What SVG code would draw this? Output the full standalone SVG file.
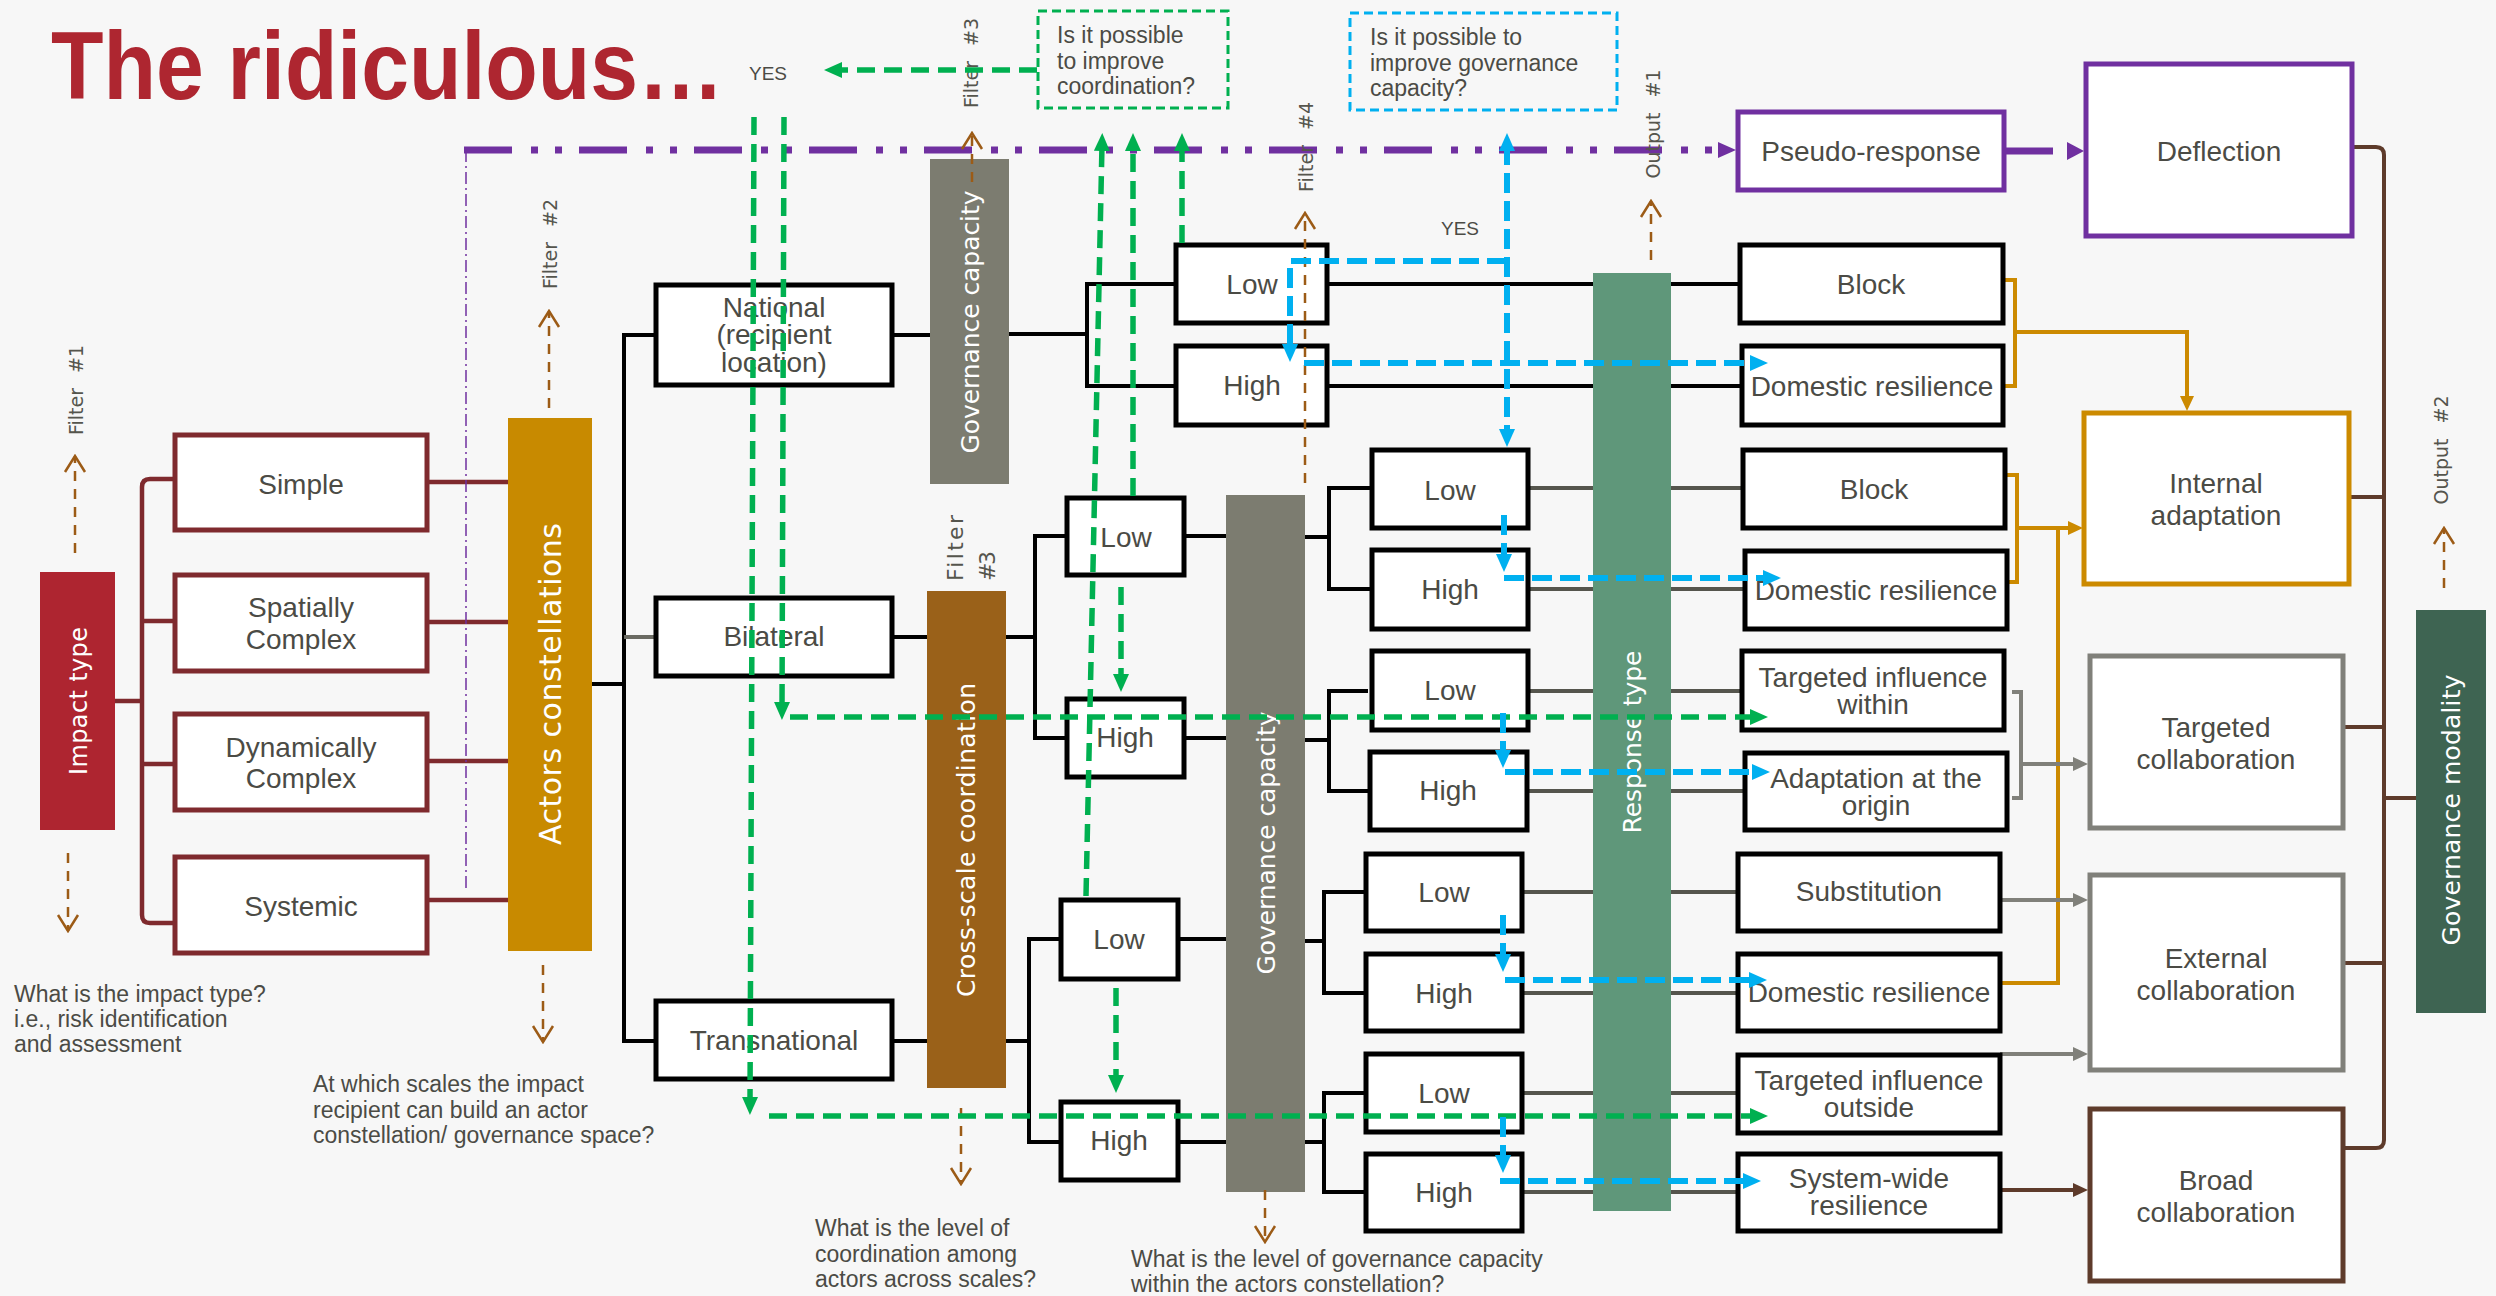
<svg xmlns="http://www.w3.org/2000/svg" width="2496" height="1296" viewBox="0 0 2496 1296">
  <defs>
    <style>
      .lbl { font-family: "Liberation Sans", Arial, sans-serif; font-size: 28px; fill: #4b4b45; text-anchor: middle; dominant-baseline: central; }
      .cap { font-family: "Liberation Sans", Arial, sans-serif; font-size: 23px; fill: #4b4b45; }
      .q { font-family: "Liberation Sans", Arial, sans-serif; font-size: 23px; fill: #4b4b45; }
      .vt { font-family: "DejaVu Sans", Verdana, sans-serif; font-size: 24px; fill: #ffffff; text-anchor: middle; dominant-baseline: central; }
      .flt { font-family: "DejaVu Sans", Verdana, sans-serif; font-size: 19px; fill: #55554d; text-anchor: middle; dominant-baseline: central; word-spacing: 9px; }
      .yes { font-family: "Liberation Sans", Arial, sans-serif; font-size: 19px; fill: #4b4b45; text-anchor: middle; dominant-baseline: central; }
      .bx { fill: #ffffff; stroke: #000000; stroke-width: 5; }
      .rb { fill: #ffffff; stroke: #7f2a2e; stroke-width: 5; }
      .pb { fill: #ffffff; stroke: #7030a0; stroke-width: 5; }
      .gb { fill: #ffffff; stroke: #cc8a00; stroke-width: 5; }
      .sb { fill: #ffffff; stroke: #80807a; stroke-width: 5; }
      .bb { fill: #ffffff; stroke: #5e3b2b; stroke-width: 5; }
      .k { fill: none; stroke: #000000; stroke-width: 4; }
      .kg { fill: none; stroke: #55554d; stroke-width: 4; }
      .dr { fill: none; stroke: #7f2a2e; stroke-width: 4.5; }
      .gold { fill: none; stroke: #cc8a00; stroke-width: 4; }
      .gray { fill: none; stroke: #80807a; stroke-width: 4; }
      .brn { fill: none; stroke: #5e3b2b; stroke-width: 4; }
      .flow-g { fill: none; stroke: #00b050; stroke-width: 5.5; stroke-dasharray: 18 9; }
      .flow-b { fill: none; stroke: #00b0f0; stroke-width: 6; stroke-dasharray: 20 8; }
      .fa { fill: none; stroke: #9c5b16; stroke-width: 2.5; stroke-dasharray: 10 8; }
    </style>
    <marker id="ahG" viewBox="0 0 18 16" markerUnits="userSpaceOnUse" markerWidth="18" markerHeight="16" refX="6" refY="8" orient="auto-start-reverse">
      <path d="M0,0 L18,8 L0,16 Z" fill="#00b050"/>
    </marker>
    <marker id="ahB" viewBox="0 0 18 16" markerUnits="userSpaceOnUse" markerWidth="18" markerHeight="16" refX="6" refY="8" orient="auto-start-reverse">
      <path d="M0,0 L18,8 L0,16 Z" fill="#00b0f0"/>
    </marker>
    <marker id="ahP" viewBox="0 0 18 16" markerUnits="userSpaceOnUse" markerWidth="18" markerHeight="16" refX="0" refY="8" orient="auto">
      <path d="M0,0 L18,8 L0,16 Z" fill="#7030a0"/>
    </marker>
    <marker id="ahY" viewBox="0 0 15 14" markerUnits="userSpaceOnUse" markerWidth="15" markerHeight="14" refX="3" refY="7" orient="auto">
      <path d="M0,0 L15,7 L0,14 Z" fill="#cc8a00"/>
    </marker>
    <marker id="ahS" viewBox="0 0 15 14" markerUnits="userSpaceOnUse" markerWidth="15" markerHeight="14" refX="3" refY="7" orient="auto">
      <path d="M0,0 L15,7 L0,14 Z" fill="#80807a"/>
    </marker>
    <marker id="ahR" viewBox="0 0 15 14" markerUnits="userSpaceOnUse" markerWidth="15" markerHeight="14" refX="3" refY="7" orient="auto">
      <path d="M0,0 L15,7 L0,14 Z" fill="#5e3b2b"/>
    </marker>
    <marker id="chev" viewBox="-2 -12 20 24" markerUnits="userSpaceOnUse" markerWidth="20" markerHeight="24" refX="16" refY="0" orient="auto">
      <path d="M0,-10 L16,0 L0,10" fill="none" stroke="#9c5b16" stroke-width="2.5"/>
    </marker>
    <filter id="soft" x="-5%" y="-200%" width="110%" height="500%">
      <feGaussianBlur stdDeviation="3"/>
    </filter>
  </defs>

  <rect x="0" y="0" width="2496" height="1296" fill="#f7f7f7"/>

  <!-- heading (bold, horizontally condensed) -->
  <text transform="scale(0.895,1)" x="57" y="99" font-family="Liberation Sans, Arial, sans-serif" font-weight="bold" font-size="96" fill="#ae2630">The ridiculous…</text>

  <!-- solid links (drawn beneath the nodes) -->
  <g id="connectors">
    <!-- impact type bracket -->
    <path class="dr" d="M115,701 L142,701"/>
    <path class="dr" d="M173,479 L150,479 Q142,479 142,487 L142,915 Q142,923 150,923 L173,923"/>
    <path class="dr" d="M142,621 L173,621 M142,764 L173,764"/>
    <path class="dr" d="M429,482 L509,482 M429,622 L509,622 M429,761 L509,761 M429,900 L509,900"/>

    <!-- actors constellations to scales -->
    <path class="k" d="M592,684 L624,684 M654,335 L624,335 L624,1041 L654,1041"/>
    <path fill="none" stroke="#6b6b63" stroke-width="4" d="M624,637 L654,637"/>

    <!-- national branch -->
    <path class="k" d="M894,335 L930,335 M1009,334 L1087,334 M1174,284 L1087,284 L1087,386 L1174,386"/>
    <path class="k" d="M1329,284 L1738,284 M1329,386 L1740,386"/>

    <!-- bilateral branch -->
    <path class="k" d="M894,637 L927,637 M1006,637 L1035,637 M1065,536 L1035,536 L1035,738 L1065,738"/>
    <path class="k" d="M1186,536 L1226,536 M1305,537 L1329,537 M1370,488 L1329,488 L1329,589 L1370,589"/>
    <path class="k" d="M1186,738 L1226,738 M1305,740 L1329,740 M1368,691 L1329,691 L1329,791 L1368,791"/>

    <!-- transnational branch -->
    <path class="k" d="M894,1041 L927,1041 M1006,1041 L1029,1041 M1059,939 L1029,939 L1029,1142 L1059,1142"/>
    <path class="k" d="M1180,939 L1226,939 M1305,941 L1324,941 M1364,892 L1324,892 L1324,993 L1364,993"/>
    <path class="k" d="M1180,1142 L1226,1142 M1305,1142 L1324,1142 M1364,1093 L1324,1093 L1324,1192 L1364,1192"/>

    <!-- governance capacity levels to response types -->
    <path class="kg" d="M1530,488 L1741,488 M1530,589 L1743,589 M1530,691 L1740,691 M1529,791 L1743,791"/>
    <path class="kg" d="M1524,892 L1736,892 M1524,993 L1736,993 M1524,1093 L1736,1093 M1524,1192 L1736,1192"/>

    <!-- response types to governance modality -->
    <path d="M2015,336 L2187,336" stroke="#999999" stroke-width="5" fill="none" opacity="0.6" filter="url(#soft)"/>
    <path class="gold" d="M2005,280 L2015,280 L2015,386 L2005,386 M2015,332 L2187,332 L2187,399" marker-end="url(#ahY)"/>
    <path class="gold" d="M2007,475 L2017,475 L2017,582 L2007,582"/>
    <path class="gold" d="M2017,528 L2071,528" marker-end="url(#ahY)"/>
    <path class="gold" d="M2058,528 L2058,983 L2002,983"/>

    <path class="gray" d="M2012,692 L2021,692 L2021,798 L2012,798"/>
    <path class="gray" d="M2021,764 L2076,764" marker-end="url(#ahS)"/>
    <path class="gray" d="M2002,900 L2076,900" marker-end="url(#ahS)"/>
    <path class="gray" d="M2000,1054 L2076,1054" marker-end="url(#ahS)"/>
    <path class="brn" d="M2002,1190 L2076,1190" marker-end="url(#ahR)"/>

    <path class="brn" d="M2354,147 L2376,147 Q2384,147 2384,155 L2384,1140 Q2384,1148 2376,1148 L2345,1148"/>
    <path class="brn" d="M2351,497 L2384,497 M2345,727 L2384,727 M2345,963 L2384,963 M2384,798 L2416,798"/>

    <!-- pseudo-response path -->
    <path fill="none" stroke="#7030a0" stroke-width="1.5" stroke-dasharray="12 4 2 4" d="M466,150 L466,890"/>
    <path fill="none" stroke="#7030a0" stroke-width="7" stroke-dasharray="48 19 7 17 7 17" d="M464,150 L1718,150" marker-end="url(#ahP)"/>
    <path fill="none" stroke="#7030a0" stroke-width="7" d="M2006,151 L2053,151"/>
    <polygon points="2067,142 2084,151 2067,160" fill="#7030a0"/>
  </g>

  <!-- impact type -->
  <g id="impact-type">
    <rect x="40" y="572" width="75" height="258" fill="#ae2530"/>
    <text class="vt" transform="translate(79,701) rotate(-90)" textLength="148" lengthAdjust="spacing">Impact type</text>
  </g>
  <g id="simple"><rect class="rb" x="175" y="435" width="252" height="95"/><text class="lbl" x="301" y="484">Simple</text></g>
  <g id="spatially-complex"><rect class="rb" x="175" y="575" width="252" height="96"/><text class="lbl" x="301" y="607">Spatially</text><text class="lbl" x="301" y="639">Complex</text></g>
  <g id="dynamically-complex"><rect class="rb" x="175" y="714" width="252" height="96"/><text class="lbl" x="301" y="747">Dynamically</text><text class="lbl" x="301" y="778">Complex</text></g>
  <g id="systemic"><rect class="rb" x="175" y="857" width="252" height="96"/><text class="lbl" x="301" y="906">Systemic</text></g>

  <!-- actors constellations -->
  <g id="actors-constellations">
    <rect x="508" y="418" width="84" height="533" fill="#c88a00"/>
    <text class="vt" style="font-size:30px" transform="translate(550,684) rotate(-90)" textLength="322" lengthAdjust="spacing">Actors constellations</text>
  </g>
  <g id="national"><rect class="bx" x="656" y="285" width="236" height="100"/><text class="lbl" x="774" y="307">National</text><text class="lbl" x="774" y="334">(recipient</text><text class="lbl" x="774" y="362">location)</text></g>
  <g id="bilateral"><rect class="bx" x="656" y="598" width="236" height="78"/><text class="lbl" x="774" y="636">Bilateral</text></g>
  <g id="transnational"><rect class="bx" x="656" y="1001" width="236" height="78"/><text class="lbl" x="774" y="1040">Transnational</text></g>

  <!-- governance capacity (national) -->
  <g id="gov-capacity-national">
    <rect x="930" y="159" width="79" height="325" fill="#7c7c70"/>
    <text class="vt" style="font-size:25px" transform="translate(970,322) rotate(-90)" textLength="263" lengthAdjust="spacing">Governance capacity</text>
  </g>
  <g id="national-low"><rect class="bx" x="1176" y="245" width="151" height="78"/><text class="lbl" x="1252" y="284">Low</text></g>
  <g id="national-high"><rect class="bx" x="1176" y="346" width="151" height="79"/><text class="lbl" x="1252" y="385">High</text></g>

  <!-- cross-scale coordination -->
  <g id="cross-scale-coordination">
    <rect x="927" y="591" width="79" height="497" fill="#9a6119"/>
    <text class="vt" style="font-size:25px" transform="translate(966,840) rotate(-90)" textLength="314" lengthAdjust="spacing">Cross-scale coordination</text>
  </g>
  <g id="bilateral-low"><rect class="bx" x="1067" y="498" width="117" height="77"/><text class="lbl" x="1126" y="537">Low</text></g>
  <g id="bilateral-high"><rect class="bx" x="1067" y="699" width="117" height="78"/><text class="lbl" x="1125" y="737">High</text></g>
  <g id="transnational-low"><rect class="bx" x="1061" y="900" width="117" height="79"/><text class="lbl" x="1119" y="939">Low</text></g>
  <g id="transnational-high"><rect class="bx" x="1061" y="1102" width="117" height="78"/><text class="lbl" x="1119" y="1140">High</text></g>

  <!-- governance capacity (bilateral / transnational) -->
  <g id="gov-capacity-shared">
    <rect x="1226" y="495" width="79" height="697" fill="#7c7c70"/>
    <text class="vt" style="font-size:25px" transform="translate(1266,843) rotate(-90)" textLength="263" lengthAdjust="spacing">Governance capacity</text>
  </g>
  <g id="gc-low-1"><rect class="bx" x="1372" y="450" width="156" height="78"/><text class="lbl" x="1450" y="490">Low</text></g>
  <g id="gc-high-1"><rect class="bx" x="1372" y="550" width="156" height="79"/><text class="lbl" x="1450" y="589">High</text></g>
  <g id="gc-low-2"><rect class="bx" x="1372" y="651" width="156" height="79"/><text class="lbl" x="1450" y="690">Low</text></g>
  <g id="gc-high-2"><rect class="bx" x="1370" y="752" width="157" height="78"/><text class="lbl" x="1448" y="790">High</text></g>
  <g id="gc-low-3"><rect class="bx" x="1366" y="854" width="156" height="77"/><text class="lbl" x="1444" y="892">Low</text></g>
  <g id="gc-high-3"><rect class="bx" x="1366" y="954" width="156" height="77"/><text class="lbl" x="1444" y="993">High</text></g>
  <g id="gc-low-4"><rect class="bx" x="1366" y="1054" width="156" height="78"/><text class="lbl" x="1444" y="1093">Low</text></g>
  <g id="gc-high-4"><rect class="bx" x="1366" y="1154" width="156" height="77"/><text class="lbl" x="1444" y="1192">High</text></g>

  <!-- response type -->
  <g id="response-type">
    <rect x="1593" y="273" width="78" height="938" fill="#5f977a"/>
    <text class="vt" style="font-size:25px" transform="translate(1632,742) rotate(-90)" textLength="183" lengthAdjust="spacing">Response type</text>
  </g>
  <g id="pseudo-response"><rect class="pb" x="1738" y="112" width="266" height="78"/><text class="lbl" x="1871" y="151">Pseudo-response</text></g>
  <g id="block-1"><rect class="bx" x="1740" y="245" width="263" height="78"/><text class="lbl" x="1871" y="284">Block</text></g>
  <g id="domestic-resilience-1"><rect class="bx" x="1742" y="346" width="261" height="79"/><text class="lbl" x="1872" y="386">Domestic resilience</text></g>
  <g id="block-2"><rect class="bx" x="1743" y="450" width="262" height="78"/><text class="lbl" x="1874" y="489">Block</text></g>
  <g id="domestic-resilience-2"><rect class="bx" x="1745" y="551" width="262" height="78"/><text class="lbl" x="1876" y="590">Domestic resilience</text></g>
  <g id="targeted-influence-within"><rect class="bx" x="1742" y="651" width="262" height="79"/><text class="lbl" x="1873" y="677">Targeted influence</text><text class="lbl" x="1873" y="704">within</text></g>
  <g id="adaptation-at-origin"><rect class="bx" x="1745" y="753" width="262" height="77"/><text class="lbl" x="1876" y="778">Adaptation at the</text><text class="lbl" x="1876" y="805">origin</text></g>
  <g id="substitution"><rect class="bx" x="1738" y="854" width="262" height="77"/><text class="lbl" x="1869" y="891">Substitution</text></g>
  <g id="domestic-resilience-3"><rect class="bx" x="1738" y="954" width="262" height="77"/><text class="lbl" x="1869" y="992">Domestic resilience</text></g>
  <g id="targeted-influence-outside"><rect class="bx" x="1738" y="1055" width="262" height="78"/><text class="lbl" x="1869" y="1080">Targeted influence</text><text class="lbl" x="1869" y="1107">outside</text></g>
  <g id="system-wide-resilience"><rect class="bx" x="1738" y="1154" width="262" height="77"/><text class="lbl" x="1869" y="1178">System-wide</text><text class="lbl" x="1869" y="1205">resilience</text></g>

  <!-- governance modality outputs -->
  <g id="deflection"><rect class="pb" x="2086" y="64" width="266" height="172"/><text class="lbl" x="2219" y="151">Deflection</text></g>
  <g id="internal-adaptation"><rect class="gb" x="2084" y="413" width="265" height="171"/><text class="lbl" x="2216" y="483">Internal</text><text class="lbl" x="2216" y="515">adaptation</text></g>
  <g id="targeted-collaboration"><rect class="sb" x="2090" y="656" width="253" height="172"/><text class="lbl" x="2216" y="727">Targeted</text><text class="lbl" x="2216" y="759">collaboration</text></g>
  <g id="external-collaboration"><rect class="sb" x="2090" y="875" width="253" height="195"/><text class="lbl" x="2216" y="958">External</text><text class="lbl" x="2216" y="990">collaboration</text></g>
  <g id="broad-collaboration"><rect class="bb" x="2090" y="1109" width="253" height="172"/><text class="lbl" x="2216" y="1180">Broad</text><text class="lbl" x="2216" y="1212">collaboration</text></g>
  <g id="governance-modality">
    <rect x="2416" y="610" width="70" height="403" fill="#3e6452"/>
    <text class="vt" style="font-size:25px" transform="translate(2451,810) rotate(-90)" textLength="271" lengthAdjust="spacing">Governance modality</text>
  </g>

  <!-- question boxes -->
  <g id="question-coordination">
    <rect x="1038" y="11" width="190" height="97" fill="none" stroke="#00b050" stroke-width="3" stroke-dasharray="9 5"/>
    <text class="q" x="1057" y="43">Is it possible</text>
    <text class="q" x="1057" y="69">to improve</text>
    <text class="q" x="1057" y="94">coordination?</text>
  </g>
  <g id="question-governance">
    <rect x="1350" y="13" width="267" height="97" fill="none" stroke="#00b0f0" stroke-width="3" stroke-dasharray="9 5"/>
    <text class="q" x="1370" y="45">Is it possible to</text>
    <text class="q" x="1370" y="71">improve governance</text>
    <text class="q" x="1370" y="96">capacity?</text>
  </g>
  <text class="yes" x="768" y="73">YES</text>
  <text class="yes" x="1460" y="228">YES</text>

  <!-- filter and output markers -->
  <g id="filters">
    <text class="flt" transform="translate(76,390) rotate(-90)">Filter #1</text>
    <text class="flt" transform="translate(550,244) rotate(-90)">Filter #2</text>
    <text class="flt" transform="translate(971,63) rotate(-90)">Filter #3</text>
    <text class="flt" transform="translate(1306,147) rotate(-90)">Filter #4</text>
    <text class="flt" transform="translate(1653,124) rotate(-90)">Output #1</text>
    <text class="flt" transform="translate(2441,450) rotate(-90)">Output #2</text>
    <text class="flt" style="font-size:22px;text-anchor:start" transform="translate(955,581) rotate(-90)" textLength="66" lengthAdjust="spacing">Filter</text>
    <text class="flt" style="font-size:22px;text-anchor:start" transform="translate(987,581) rotate(-90)" textLength="30" lengthAdjust="spacing">#3</text>
  </g>

  <!-- overlay flows -->
  <g id="flow-connectors">
    <path class="fa" d="M75,553 L75,456" marker-end="url(#chev)"/>
    <path class="fa" d="M68,853 L68,931" marker-end="url(#chev)"/>
    <path class="fa" d="M549,408 L549,311" marker-end="url(#chev)"/>
    <path class="fa" d="M543,965 L543,1042" marker-end="url(#chev)"/>
    <path class="fa" d="M972,182 L972,133" marker-end="url(#chev)"/>
    <path class="fa" d="M1305,483 L1305,213" marker-end="url(#chev)"/>
    <path class="fa" d="M1651,260 L1651,201" marker-end="url(#chev)"/>
    <path class="fa" d="M961,1108 L961,1184" marker-end="url(#chev)"/>
    <path class="fa" d="M1265,1190 L1265,1242" marker-end="url(#chev)"/>
    <path class="fa" d="M2444,588 L2444,528" marker-end="url(#chev)"/>

    <!-- coordination loop -->
    <path class="flow-g" d="M1037,70 L836,70" marker-end="url(#ahG)"/>
    <path class="flow-g" d="M784,117 L782,708" marker-end="url(#ahG)"/>
    <path class="flow-g" d="M790,717 L1756,717" marker-end="url(#ahG)"/>
    <path class="flow-g" d="M754,117 L750,1103" marker-end="url(#ahG)"/>
    <path class="flow-g" d="M769,1116 L1756,1116" marker-end="url(#ahG)"/>
    <path class="flow-g" d="M1182,243 L1182,145" marker-end="url(#ahG)"/>
    <path class="flow-g" d="M1133,496 L1133,145" marker-end="url(#ahG)"/>
    <path class="flow-g" d="M1086,896 L1102,145" marker-end="url(#ahG)"/>
    <path class="flow-g" d="M1121,587 L1121,680" marker-end="url(#ahG)"/>
    <path class="flow-g" d="M1116,988 L1116,1081" marker-end="url(#ahG)"/>

    <!-- governance capacity loop -->
    <path class="flow-b" d="M1507,145 L1507,435" marker-start="url(#ahB)" marker-end="url(#ahB)"/>
    <path class="flow-b" d="M1507,261 L1290,261 L1290,350" marker-end="url(#ahB)"/>
    <path class="flow-b" d="M1304,363 L1756,363" marker-end="url(#ahB)"/>
    <path class="flow-b" d="M1504,515 L1504,560" marker-end="url(#ahB)"/>
    <path class="flow-b" d="M1504,578 L1769,578" marker-end="url(#ahB)"/>
    <path class="flow-b" d="M1503,713 L1503,756" marker-end="url(#ahB)"/>
    <path class="flow-b" d="M1505,772 L1758,772" marker-end="url(#ahB)"/>
    <path class="flow-b" d="M1503,915 L1503,960" marker-end="url(#ahB)"/>
    <path class="flow-b" d="M1505,980 L1755,980" marker-end="url(#ahB)"/>
    <path class="flow-b" d="M1503,1117 L1503,1161" marker-end="url(#ahB)"/>
    <path class="flow-b" d="M1500,1181 L1749,1181" marker-end="url(#ahB)"/>
  </g>

  <!-- guiding questions -->
  <g id="captions">
    <text class="cap" x="14" y="1002">What is the impact type?</text>
    <text class="cap" x="14" y="1027">i.e., risk identification</text>
    <text class="cap" x="14" y="1052">and assessment</text>
    <text class="cap" x="313" y="1092">At which scales the impact</text>
    <text class="cap" x="313" y="1118">recipient can build an actor</text>
    <text class="cap" x="313" y="1143">constellation/ governance space?</text>
    <text class="cap" x="815" y="1236">What is the level of</text>
    <text class="cap" x="815" y="1262">coordination among</text>
    <text class="cap" x="815" y="1287">actors across scales?</text>
    <text class="cap" x="1131" y="1267">What is the level of governance capacity</text>
    <text class="cap" x="1131" y="1292">within the actors constellation?</text>
  </g>
</svg>
